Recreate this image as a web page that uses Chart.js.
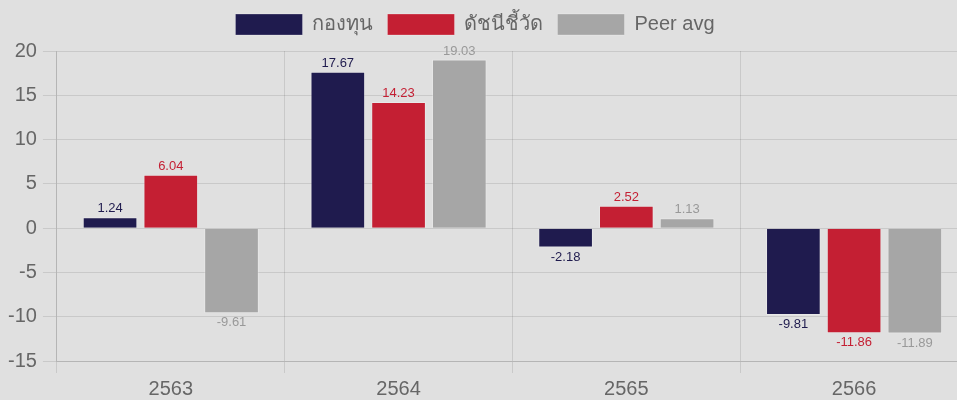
<!DOCTYPE html>
<html>
<head>
<meta charset="utf-8">
<script src="https://cdn.jsdelivr.net/npm/chart.js@4"></script>
<style>
  html, body { margin: 0; padding: 0; background: #e0e0e0; overflow: hidden; }
  #wrap { width: 968px; height: 405px; }
</style>
</head>
<body>
<div id="wrap"><canvas id="chart"></canvas></div>
<script>
const years = ['2563', '2564', '2565', '2566'];
const fundReturns = [1.24, 17.67, -2.18, -9.81];
const benchmarkReturns = [6.04, 14.23, 2.52, -11.86];
const peerReturns = [-9.61, 19.03, 1.13, -11.89];
const seriesNames = ['กองทุน', 'ดัชนีชี้วัด', 'Peer avg'];
const yTicks = [-15, -10, -5, 0, 5, 10, 15, 20];

const barColors = ['#1f1b4e', '#c41f33', '#a6a6a6'];
const labelColors = ['#1f1b4e', '#c41f33', '#999999'];
const fontFamily = '"Liberation Sans", Arial, sans-serif';

// draw the value above / below each bar
const valueLabels = {
  id: 'valueLabels',
  afterDatasetsDraw(chart) {
    const ctx = chart.ctx;
    ctx.save();
    ctx.font = '13px ' + fontFamily;
    ctx.textAlign = 'center';
    chart.data.datasets.forEach((ds, i) => {
      const meta = chart.getDatasetMeta(i);
      meta.data.forEach((bar, j) => {
        const v = ds.data[j];
        ctx.fillStyle = labelColors[i];
        if (v >= 0) {
          ctx.textBaseline = 'bottom';
          ctx.fillText(v.toFixed(2), bar.x, bar.y - 2);
        } else {
          ctx.textBaseline = 'top';
          ctx.fillText(v.toFixed(2), bar.x, bar.y + 3);
        }
      });
    });
    ctx.restore();
  }
};

// a bit more room under the legend, and nudge it left
const legendGap = {
  id: 'legendGap',
  beforeInit(chart) {
    const fit = chart.legend.fit;
    chart.legend.fit = function () {
      fit.call(this);
      this.height += 6;
      if (this.lineWidths && this.lineWidths.length) this.lineWidths[0] += 20;
    };
  }
};

new Chart(document.getElementById('chart'), {
  type: 'bar',
  data: {
    labels: years,
    datasets: [fundReturns, benchmarkReturns, peerReturns].map((d, i) => ({
      label: seriesNames[i],
      data: d,
      backgroundColor: barColors[i],
      borderColor: 'rgba(255,255,255,0.25)',
      borderWidth: 1
    }))
  },
  options: {
    responsive: true,
    maintainAspectRatio: false,
    animation: false,
    layout: { padding: { left: 2, right: 0, top: 0, bottom: 0 } },
    plugins: {
      legend: {
        labels: {
          boxWidth: 67,
          boxHeight: 21,
          padding: 14,
          color: '#666',
          font: { size: 20, family: fontFamily }
        }
      },
      tooltip: { enabled: false }
    },
    scales: {
      x: {
        grid: { color: 'rgba(0,0,0,0.1)', tickLength: 12, offset: true },
        border: { color: 'rgba(0,0,0,0.1)' },
        ticks: { color: '#666', font: { size: 20, family: fontFamily }, padding: 4 }
      },
      y: {
        min: -15,
        max: 20,
        afterBuildTicks: axis => { axis.ticks = yTicks.map(v => ({ value: v })); },
        grid: { color: 'rgba(0,0,0,0.1)', tickLength: 14 },
        border: { color: 'rgba(0,0,0,0.1)' },
        ticks: { color: '#666', font: { size: 20, family: fontFamily }, padding: 6 }
      }
    }
  },
  plugins: [valueLabels, legendGap]
});
</script>
</body>
</html>
